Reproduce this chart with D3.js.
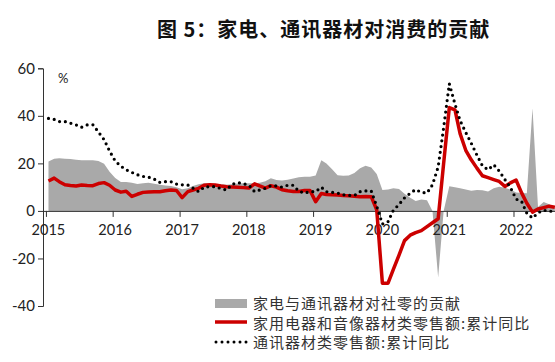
<!DOCTYPE html>
<html>
<head>
<meta charset="utf-8">
<script src="https://cdn.jsdelivr.net/npm/d3@7"></script>
<style>
body { margin: 0; background: #fff; }
text { font-family: Lato, "Noto Sans CJK SC", sans-serif; }
</style>
</head>
<body>
<div id="cont"></div>
<script>
// data: monthly, Jan 2015 - Aug 2022
var months = d3.timeMonth.range(new Date(2015, 0, 1), new Date(2022, 8, 1));

var contribution = [
  20.8, 22, 22.2, 22, 21.8, 21.5, 21.3, 21.3, 21.3, 21, 19.8, 16.5,
  13.8, 12.2, 12.2, 11.8, 11.3, 11.6, 11.8, 11.4, 11, 10.7, 10.5, 10,
  9.1, 9.5, 10.5, 11.2, 11.6, 11.5, 11.2, 11.2, 11, 11.2, 11.5, 11.6,
  11.6, 11.6, 11.8, 12.5, 13.7, 13, 12.8, 13.1, 13.6, 14.2, 14.4, 14.4,
  14.9, 21.3, 20, 17.5, 15, 14.8, 14.9, 16, 18, 19, 18.3, 15.5,
  8.8, 9, 9.5, 9.2, 7.2, 5.5, 4.2, 4.8, 4.5, 0, -28, 0,
  10.4, 10, 9.5, 9, 8.5, 8.8, 8.7, 8.2, 9.5, 10.2, 9.8, 9,
  7.8, 7.5, 7.4, 43.2, 1.6, 3.8, 2.8, 1.5
];

var appliance = [
  12.6, 13.8, 12.3, 11, 10.7, 10.5, 10.9, 10.7, 10.6, 11.5, 11.9, 10.8,
  8.8, 7.9, 8.3, 6.1, 7, 7.8, 8, 8.1, 8.1, 8.5, 8.8, 8.6,
  5.6, 8.1, 8.8, 9.5, 10.8, 11, 10.9, 10.5, 10.2, 10.1, 10, 9.8,
  9.6, 11.4, 10.5, 9.6, 10.6, 10, 8.9, 8.5, 8.2, 8.2, 8.6, 8.6,
  3.9, 7.3, 6.9, 6.8, 6.7, 6.5, 6.4, 6.2, 6, 6.1, 6, 0.5,
  -30.4, -30.4, -24.6, -18.6, -12.5, -10.2, -9.1, -8.3, -6.6, -5, -3.3, 20,
  43.5, 42.5, 32.5, 25.5, 21.5, 18, 14.8, 14, 13.2, 12.4, 10.3, 11.8,
  13, 7.5, 3.2, -0.5, 0.8, 1.4, 2, 1.5
];

var telecom = [
  38.9, 38.5, 37.6, 37.6, 36.9, 36.2, 35.2, 36.2, 36.2, 33.2, 30, 25.2,
  21, 18.8, 17.3, 16.2, 15.2, 14.5, 14.2, 13.4, 12, 12.3, 12.3, 11.3,
  11, 10.9, 9.6, 8.1, 10, 10.2, 10.2, 9.4, 8.8, 11.2, 11.9, 11.5,
  10.8, 8.1, 8.8, 9.5, 10.6, 10.5, 10, 10.8, 10.8, 8.3, 7.5, 8.1,
  8.1, 10, 8.1, 7.8, 7.5, 6.8, 6.5, 6.5, 8.1, 8.4, 8.4, 2,
  -5.5, -4.5, 0.3, 2.7, 5.5, 7.4, 9, 7.8, 7.5, 11, 18.5, 35,
  53.5, 45, 38, 33, 28.5, 23.5, 19, 17.3, 19.4, 16.8, 13.2, 10,
  5, 3.9, -1, -3, -0.8, 0.3, -0.2, 0
];

var yTicks = [60, 40, 20, 0, -20, -40];
var legendNames = ["家电与通讯器材对社零的贡献", "家用电器和音像器材类零售额:累计同比", "通讯器材类零售额:累计同比"];
var title = "图 5：家电、通讯器材对消费的贡献";

// svg
var W = 555, H = 362;
var svg = d3.select("#cont").append("svg").attr("width", W).attr("height", H);

var x = d3.scaleTime()
  .domain([new Date(2014, 11, 16), new Date(2022, 7, 16)])
  .range([43, 555]);
var y = d3.scaleLinear().domain([-40, 60]).range([306, 68.3]);

function mid(d) { return x(d3.timeDay.offset(d, 14)); }

var rows = months.map(function(d, i) {
  return { date: d, c: contribution[i], a: appliance[i], t: telecom[i] };
});

svg.append("text")
  .attr("x", 157).attr("y", 37)
  .style("font-family", "'Noto Sans CJK SC', sans-serif")
  .style("font-weight", 700)
  .style("font-size", "20px")
  .style("letter-spacing", "1px")
  .attr("fill", "#111")
  .text(title);

// gray area
var area = d3.area()
  .x(function(d) { return mid(d.date); })
  .y0(y(0))
  .y1(function(d) { return y(d.c); });
svg.append("path").datum(rows)
  .attr("d", area)
  .attr("fill", "#a9a9a9");

// axes
var yAxis = svg.append("g").attr("transform", "translate(43,0)")
  .call(d3.axisLeft(y).tickValues(yTicks).tickSize(5).tickFormat(function(d) { return String(d); }));
yAxis.select(".domain").attr("stroke", "#333");
yAxis.selectAll(".tick line").attr("stroke", "#333");
yAxis.selectAll(".tick text")
  .attr("x", -8)
  .style("font-size", "15px")
  .style("font-family", "Lato, sans-serif")
  .attr("fill", "#222");

var xAxis = svg.append("g").attr("transform", "translate(0," + y(0) + ")")
  .call(d3.axisBottom(x).ticks(d3.timeYear.every(1)).tickSize(6).tickSizeOuter(0).tickFormat(d3.timeFormat("%Y")));
xAxis.select(".domain").attr("stroke", "#333");
xAxis.selectAll(".tick line").attr("stroke", "#333");
xAxis.selectAll(".tick text")
  .attr("y", 14)
  .attr("dx", 2)
  .style("font-size", "14.5px")
  .style("font-family", "Lato, sans-serif")
  .attr("fill", "#222");

svg.append("text").attr("x", 58).attr("y", 83)
  .style("font-size", "13px").attr("fill", "#222").text("%");

// red line
var lineA = d3.line()
  .x(function(d) { return mid(d.date); })
  .y(function(d) { return y(d.a); });
svg.append("path").datum(rows)
  .attr("d", lineA)
  .attr("fill", "none")
  .attr("stroke", "#cc0000")
  .attr("stroke-width", 3.5)
  .attr("stroke-linejoin", "round");

// dotted line
var lineT = d3.line()
  .x(function(d) { return mid(d.date); })
  .y(function(d) { return y(d.t); });
svg.append("path").datum(rows)
  .attr("d", lineT)
  .attr("fill", "none")
  .attr("stroke", "#000")
  .attr("stroke-width", 3.2)
  .attr("stroke-linecap", "round")
  .attr("stroke-dasharray", "0 5.8");

// legend
var lg = svg.append("g").attr("transform", "translate(215,0)");
lg.append("rect").attr("x", 0).attr("y", 299).attr("width", 32).attr("height", 9).attr("fill", "#a9a9a9");
lg.append("line").attr("x1", 0).attr("x2", 32).attr("y1", 322).attr("y2", 322)
  .attr("stroke", "#cc0000").attr("stroke-width", 3.5);
lg.append("line").attr("x1", 1).attr("x2", 32).attr("y1", 342).attr("y2", 342)
  .attr("stroke", "#000").attr("stroke-width", 3).attr("stroke-linecap", "round")
  .attr("stroke-dasharray", "0 6");
lg.selectAll("text.leg").data(legendNames).enter().append("text")
  .attr("class", "leg")
  .attr("x", 38)
  .attr("y", function(d, i) { return [309, 329, 348][i]; })
  .style("font-family", "'Noto Sans CJK SC', sans-serif")
  .style("font-size", "15px")
  .style("letter-spacing", "1px")
  .attr("fill", "#333")
  .text(function(d) { return d; });
</script>
</body>
</html>
